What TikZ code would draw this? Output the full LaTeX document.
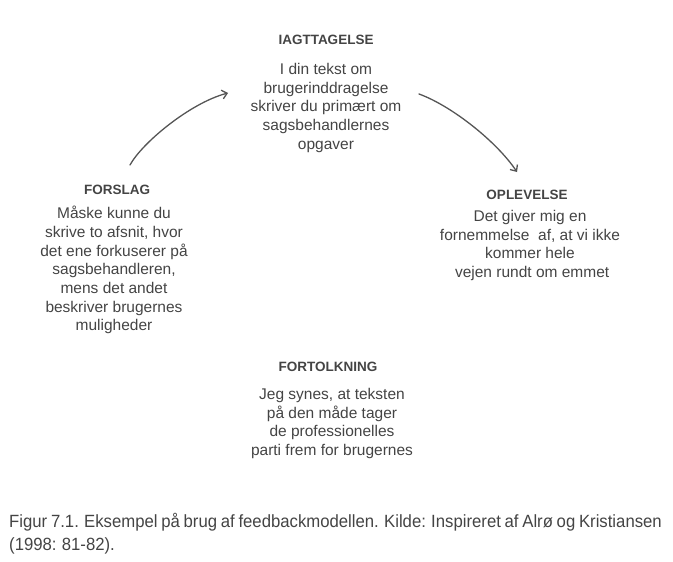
\documentclass[tikz,border=0pt]{standalone}
\usepackage{fontspec}
\setmainfont{Liberation Sans}
\newfontfamily\narrowfont[FakeStretch=0.945, WordSpace=0.8]{Liberation Sans}
\usetikzlibrary{positioning,arrows.meta}
\definecolor{txtgray}{HTML}{444444}
\definecolor{pengray}{HTML}{555555}
\begin{document}
\begin{tikzpicture}[x=1pt, y=-1pt,
	head/.style={text=txtgray, inner sep=0pt, font=\bfseries\fontsize{13.5}{16}\selectfont},
	body/.style={text=txtgray, inner sep=0pt, align=center, font=\fontsize{15.5}{18.7}\selectfont},
	pen/.style={draw=pengray, line width=1.3pt, line cap=round, -{Straight Barb[length=5pt, width=9pt]}}]
		\useasboundingbox (0,0) rectangle (673,562);
		\node[head] at (326,40) (obs) {IAGTTAGELSE};
		\node[body, below=18pt of obs] (obstxt) {I din tekst om\\brugerinddragelse\\skriver du primært om\\sagsbehandlernes\\opgaver};
		\node[head] at (527,195) (exp) {OPLEVELSE};
		\node[body, below=10pt of exp, xshift=3pt] (exptxt) {Det giver mig en\\fornemmelse\ \ af, at vi ikke\\kommer hele\\\ vejen rundt om emmet};
		\node[head] at (328,367) (int) {FORTOLKNING};
		\node[body, below=16pt of int, xshift=4pt] (inttxt) {Jeg synes, at teksten\\på den måde tager\\de professionelles\\parti frem for brugernes};
		\node[head] at (117,190) (sug) {FORSLAG};
		\node[body, below=11pt of sug, xshift=-3pt] (sugtxt) {Måske kunne du\\skrive to afsnit, hvor\\det ene forkuserer på\\sagsbehandleren,\\mens det andet\\beskriver brugernes\\muligheder};
		\coordinate (a1) at (130,165);
		\coordinate (a2) at (228,93);
		\coordinate (b1) at (419,94);
		\coordinate (b2) at (517,172);
		\draw[pen] (a1) .. controls (142,143) and (190,103) .. (a2);
		\draw[pen] (b1) .. controls (452,106) and (497,142) .. (b2);
		% base of a two-line node is the last line
		\node[text=txtgray, inner sep=0pt, anchor=base west, align=left, font=\narrowfont\fontsize{17.7}{22.5}\selectfont] at (9,550.2) (cap) {Figur 7.1. Eksempel på brug af feedbackmodellen. Kilde: Inspireret af Alrø og Kristiansen\\(1998: 81-82).};
	\end{tikzpicture}
\end{document}
